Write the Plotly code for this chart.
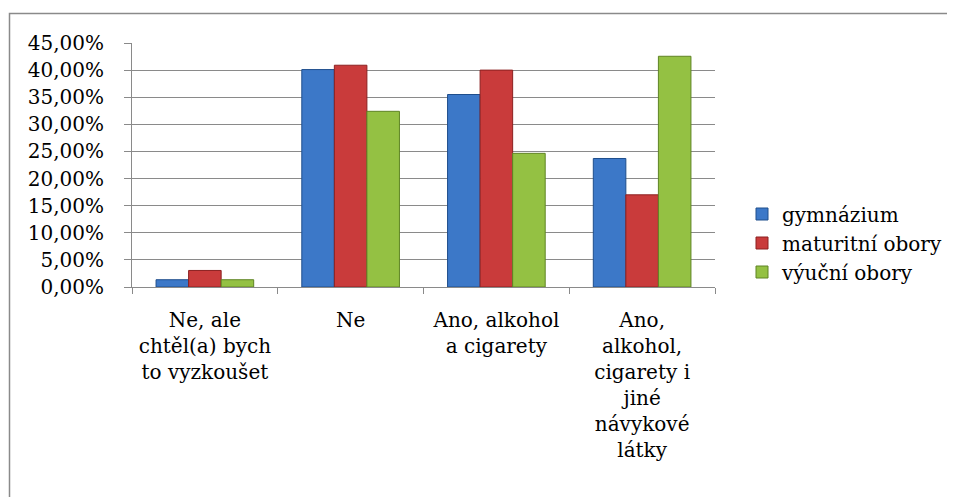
import plotly.graph_objects as go

categories = [
    "Ne, ale<br>chtěl(a) bych<br>to vyzkoušet",
    "Ne",
    "Ano, alkohol<br>a cigarety",
    "Ano,<br>alkohol,<br>cigarety i<br>jiné<br>návykové<br>látky",
]
gymnazium = [0.0134, 0.401, 0.355, 0.237]
maturitni = [0.0305, 0.409, 0.400, 0.170]
vyucni = [0.0134, 0.324, 0.2465, 0.4255]
series_names = ["gymnázium", "maturitní obory", "výuční obory"]
tick_vals = [0, 0.05, 0.10, 0.15, 0.20, 0.25, 0.30, 0.35, 0.40, 0.45]
tick_text = ["0,00%", "5,00%", "10,00%", "15,00%", "20,00%", "25,00%",
             "30,00%", "35,00%", "40,00%", "45,00%"]

fills = ["#3C78C8", "#C93B3B", "#94C143"]
edges = ["#1F4E8C", "#8C2020", "#5F8424"]

# page body has an 8px margin; positions below are in figure coordinates
OFF = 8
W, H = 955, 497
L, T = 132 - OFF, 43 - OFF
R = W - (715 - OFF)
B = H - (287 - OFF)
pw, ph = W - L - R, H - T - B

fig = go.Figure()
for name, vals, fc, ec in zip(series_names, [gymnazium, maturitni, vyucni], fills, edges):
    fig.add_trace(go.Bar(x=categories, y=vals, name=name,
                         marker=dict(color=fc, line=dict(color=ec, width=1))))

font = "DejaVu Serif"
FS = 20
fig.update_layout(
    width=W, height=H,
    margin=dict(l=L, r=R, t=T, b=B, pad=0, autoexpand=False),
    paper_bgcolor="white", plot_bgcolor="white",
    barmode="group", bargap=0.33, bargroupgap=0,
    font=dict(family=font, size=FS, color="black"),
    showlegend=True,
    legend=dict(x=(742 - OFF - L) / pw, xanchor="left",
                y=((287 - OFF) - (243 - OFF)) / ph, yanchor="middle",
                font=dict(family=font, size=FS), bgcolor="rgba(0,0,0,0)",
                tracegroupgap=0, itemwidth=30),
    xaxis=dict(showline=True, linecolor="#8A8A8A", linewidth=1, ticks="outside",
               tickson="boundaries", ticklen=6, tickcolor="#8A8A8A",
               showgrid=False, tickangle=0, fixedrange=True, automargin=False,
               ticklabelstandoff=15, tickfont=dict(family=font, size=FS)),
    yaxis=dict(range=[0, 0.45], tickvals=tick_vals, ticktext=tick_text,
               showline=True, linecolor="#8A8A8A", linewidth=1,
               ticks="outside", ticklen=7, tickcolor="#8A8A8A",
               showgrid=True, gridcolor="#8A8A8A", gridwidth=1, automargin=False,
               zeroline=False, ticklabelstandoff=16,
               tickfont=dict(family=font, size=FS)),
)
# outer chart border (right and bottom edges lie outside the picture)
fig.add_shape(type="rect", xref="paper", yref="paper",
              x0=(9.5 - OFF - L) / pw, x1=(W + 20 - L) / pw,
              y0=-(H + 20 - (H - B)) / ph, y1=((H - B) - (13.5 - OFF)) / ph,
              line=dict(color="#8A8A8A", width=1.5), layer="below")

fig.write_html("out.html")
